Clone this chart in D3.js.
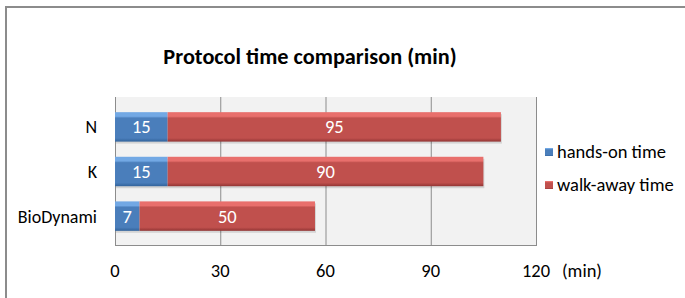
<!DOCTYPE html>
<html><head><meta charset="utf-8">
<script src="https://cdn.jsdelivr.net/npm/d3@7"></script>
<style>body{margin:0;background:#fff;}svg{display:block;font-family:Carlito,Lato,"Liberation Sans",sans-serif;}</style>
</head><body>
<script>
const categories = ["N", "K", "BioDynami"];
const handsOn = [15, 15, 7];
const walkAway = [95, 90, 50];
const seriesNames = ["hands-on time", "walk-away time"];
const tickValues = [0, 30, 60, 90, 120];
const title = "Protocol time comparison (min)";
const unitLabel = "(min)";

const W = 685, H = 298;
const svg = d3.select("body").append("svg").attr("width", W).attr("height", H);
const defs = svg.append("defs");
function grad(id, top, mid, bot) {
  const g = defs.append("linearGradient").attr("id", id).attr("x1", 0).attr("y1", 0).attr("x2", 0).attr("y2", 1);
  g.append("stop").attr("offset", "0%").attr("stop-color", top);
  g.append("stop").attr("offset", "14%").attr("stop-color", top);
  g.append("stop").attr("offset", "20%").attr("stop-color", mid);
  g.append("stop").attr("offset", "88%").attr("stop-color", mid);
  g.append("stop").attr("offset", "100%").attr("stop-color", bot);
}
grad("gBlue", "#72a8e4", "#4a7ebb", "#32639b");
grad("gRed", "#e86f6c", "#c0504d", "#923534");
const fills = ["url(#gBlue)", "url(#gRed)"];

// outer frame (top and left lines)
svg.append("line").attr("x1", 5).attr("x2", W).attr("y1", 7).attr("y2", 7).attr("stroke", "#8c8c8c").attr("stroke-width", 2);
svg.append("line").attr("x1", 6).attr("x2", 6).attr("y1", 6).attr("y2", H).attr("stroke", "#8c8c8c").attr("stroke-width", 2);

const x = d3.scaleLinear().domain([0, 120]).range([115, 536]);
const y = d3.scaleBand().domain(categories).range([97, 246]).padding(0.34);

// plot background
svg.append("rect").attr("x", x(0)).attr("y", 97).attr("width", x(120) - x(0)).attr("height", 149).attr("fill", "#f2f2f2");

// gridlines
svg.append("g").selectAll("line").data(tickValues).join("line")
  .attr("x1", d => x(d) + 0.5).attr("x2", d => x(d) + 0.5).attr("y1", 97).attr("y2", 246)
  .attr("stroke", "#8c8c8c").attr("stroke-width", 1);
svg.append("line").attr("x1", x(0)).attr("x2", x(120)).attr("y1", 245.5).attr("y2", 245.5).attr("stroke", "#8c8c8c");

// bars
const stacks = categories.map((c, i) => ({ c, vals: [handsOn[i], walkAway[i]] }));
const gBars = svg.append("g");
stacks.forEach(s => {
  let acc = 0;
  s.vals.forEach((v, k) => {
    const x0 = x(acc), x1 = x(acc + v);
    gBars.append("rect").attr("x", x0 + 1).attr("y", y(s.c) + 2).attr("width", x1 - x0).attr("height", y.bandwidth())
      .attr("fill", "#000").attr("opacity", 0.12);
    gBars.append("rect").attr("x", x0).attr("y", y(s.c)).attr("width", x1 - x0).attr("height", y.bandwidth())
      .attr("fill", fills[k]);
    gBars.append("text").attr("x", (x0 + x1) / 2).attr("y", y(s.c) + y.bandwidth() / 2 + 6.5)
      .attr("text-anchor", "middle").attr("fill", "#fff").attr("font-size", 18.5).text(v);
    acc += v;
  });
});

// category labels
svg.append("g").selectAll("text").data(categories).join("text")
  .attr("x", 97).attr("y", d => y(d) + y.bandwidth() / 2 + 6.5)
  .attr("text-anchor", "end").attr("font-size", 18).attr("fill", "#000").text(d => d);

// x tick labels
svg.append("g").selectAll("text").data(tickValues).join("text")
  .attr("x", d => x(d)).attr("y", 277).attr("text-anchor", "middle")
  .attr("font-size", 18.5).attr("fill", "#000").text(d => d);
svg.append("text").attr("x", 562).attr("y", 277).attr("font-size", 18.5).text(unitLabel);

// title
svg.append("text").attr("x", 310).attr("y", 64).attr("text-anchor", "middle")
  .attr("font-size", 22.3).attr("font-weight", "bold").text(title);

// legend
const lg = svg.append("g");
seriesNames.forEach((n, i) => {
  const ly = 152 + i * 33;
  lg.append("rect").attr("x", 545).attr("y", ly - 4).attr("width", 8).attr("height", 8).attr("fill", fills[i]);
  lg.append("text").attr("x", 557).attr("y", ly + 6).attr("font-size", 18.5).text(n);
});
</script>
</body></html>
